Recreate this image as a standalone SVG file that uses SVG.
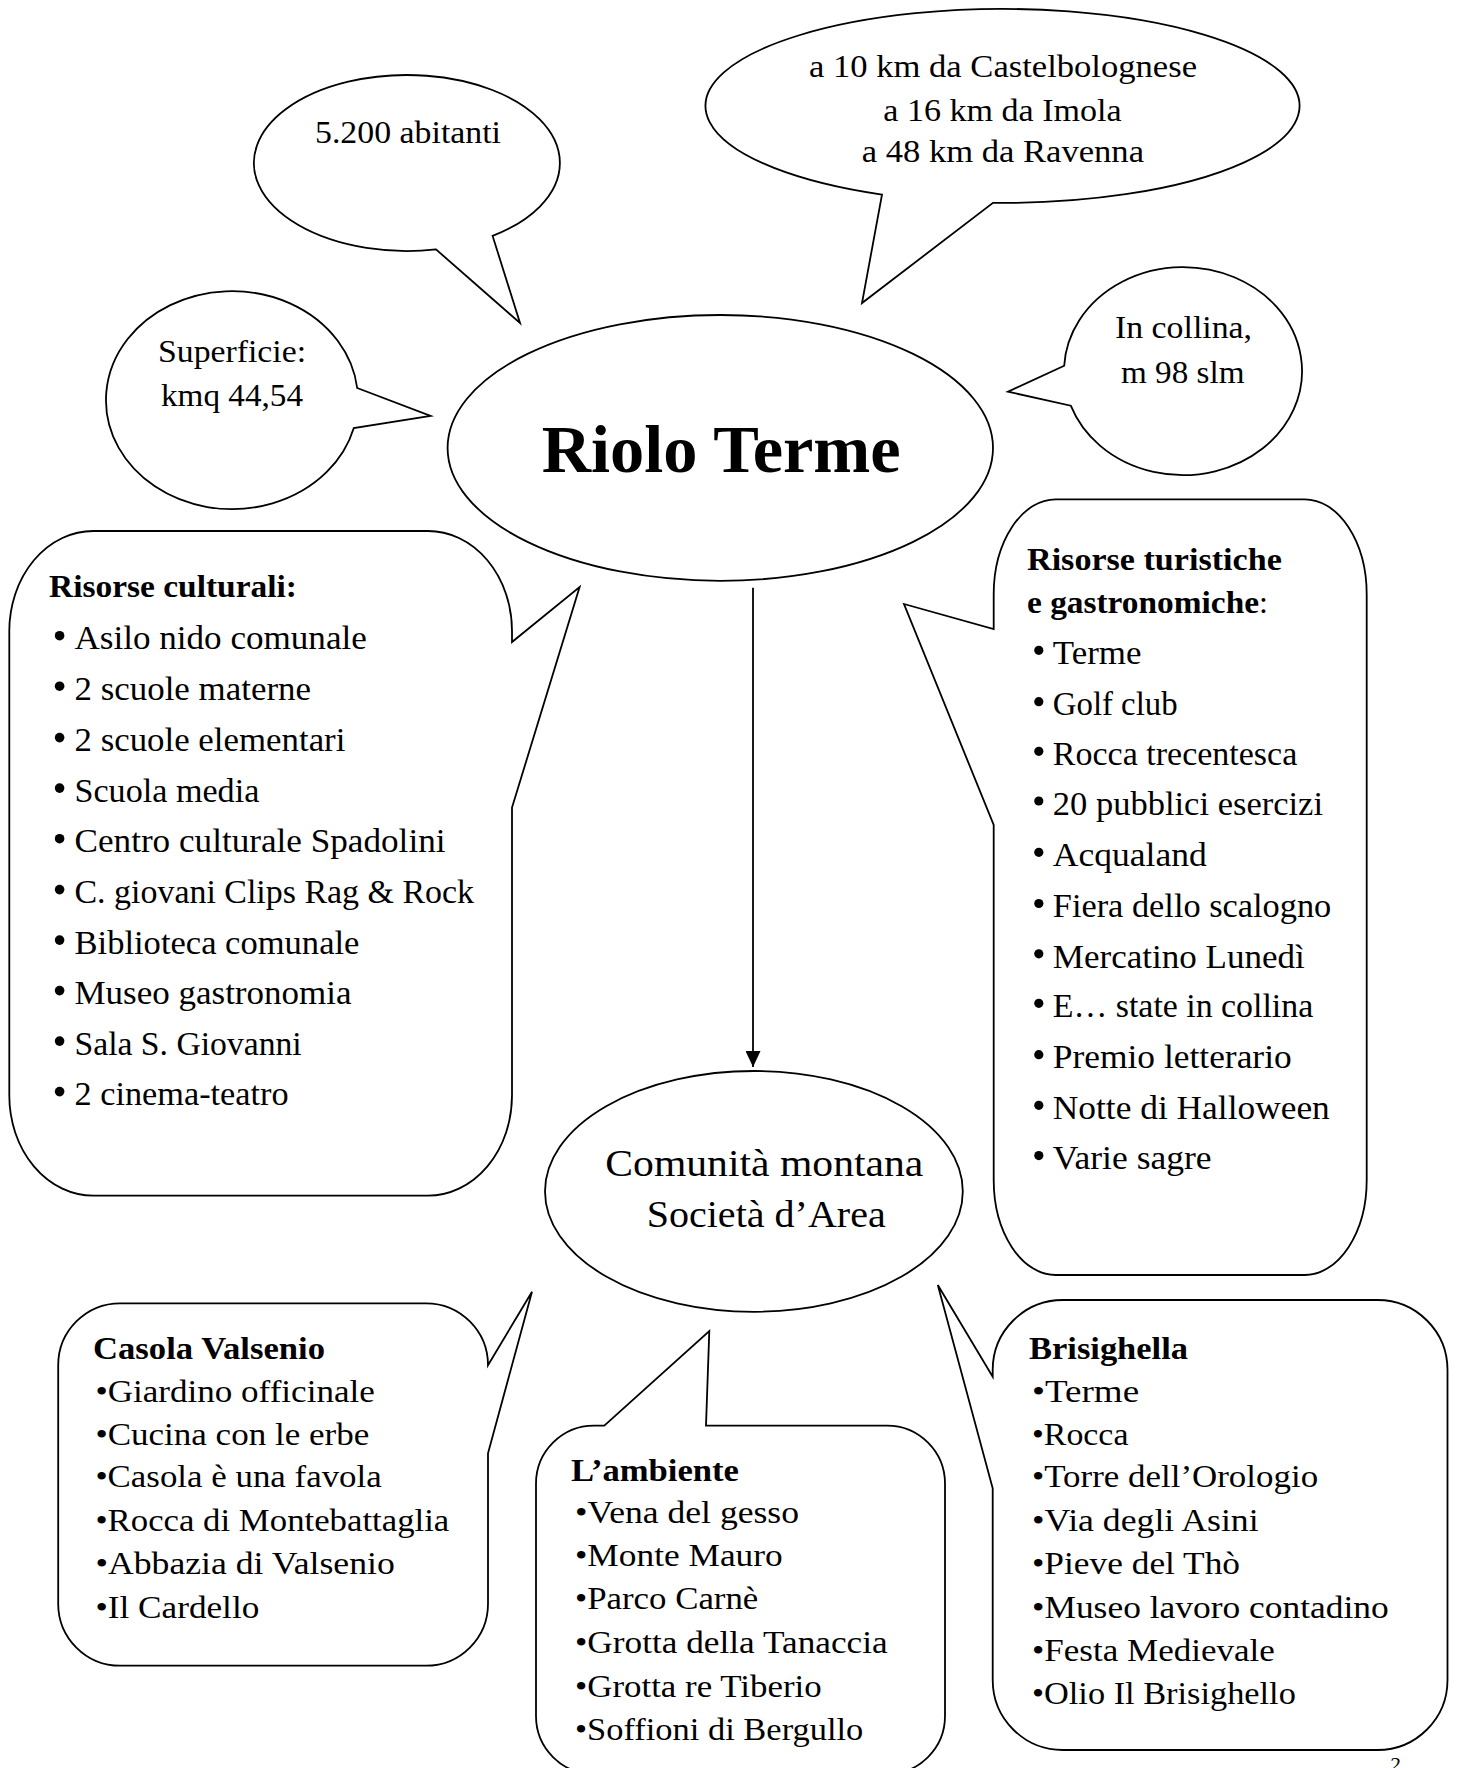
<svg xmlns="http://www.w3.org/2000/svg" width="1459" height="1768" viewBox="0 0 1459 1768">
<defs>
<style>
.s{fill:#fff;stroke:#000;stroke-width:1.8;stroke-linejoin:miter}
text{font-family:"Liberation Serif","Times New Roman",serif;fill:#000}
.b{font-weight:bold}
.f32{font-size:32px}
.f34{font-size:34px}
.f31{font-size:31px}
.dot{fill:#000}
</style>
<marker id="ah" viewBox="0 0 16 15" markerWidth="16" markerHeight="15" refX="16" refY="7.5" orient="auto" markerUnits="userSpaceOnUse">
<path d="M0,0 L16,7.5 L0,15 Z" fill="#000"/>
</marker>
</defs>
<rect width="1459" height="1768" fill="#fff"/>

<g id="abitanti">
<path class="s" d="M436 249.4 L520 323 L492.6 235.9 A153 88 0 1 0 436 249.4 Z"/>
<text class="f32" x="315" y="143" textLength="186" lengthAdjust="spacingAndGlyphs">5.200 abitanti</text>
</g>

<g id="distanze">
<path class="s" d="M882 194.6 L862 303 L993 202.9 A297 97 0 1 0 882 194.6 Z"/>
<text class="f32" x="809" y="77" textLength="388" lengthAdjust="spacingAndGlyphs">a 10 km da Castelbolognese</text>
<text class="f32" x="883.3" y="121" textLength="238.4" lengthAdjust="spacingAndGlyphs">a 16 km da Imola</text>
<text class="f32" x="861.7" y="161.7" textLength="282.3" lengthAdjust="spacingAndGlyphs">a 48 km da Ravenna</text>
</g>

<g id="superficie">
<path class="s" d="M357.2 388 L430.6 416 L353.8 428 A126 109 0 1 1 357.2 388 Z"/>
<text class="f32" x="158" y="362" textLength="148" lengthAdjust="spacingAndGlyphs">Superficie:</text>
<text class="f32" x="161" y="406" textLength="142" lengthAdjust="spacingAndGlyphs">kmq 44,54</text>
</g>

<g id="collina">
<path class="s" d="M1064.2 365.7 L1008 391.7 L1070.8 405.7 A119 104 0 1 0 1064.2 365.7 Z"/>
<text class="f32" x="1115" y="338" textLength="137" lengthAdjust="spacingAndGlyphs">In collina,</text>
<text class="f32" x="1121" y="383" textLength="123.5" lengthAdjust="spacingAndGlyphs">m 98 slm</text>
</g>

<g id="riolo">
<ellipse class="s" cx="720.3" cy="447.9" rx="272.7" ry="132.9"/>
<text class="b" font-size="68" x="541.7" y="471.7" textLength="359" lengthAdjust="spacingAndGlyphs">Riolo Terme</text>
</g>

<g id="culturali">
<path class="s" d="M93.3 531 L428 531 A84 100 0 0 1 512 631 L512 642 L579.6 587 L512 807.6 L512 1095.6 A84 100 0 0 1 428 1195.6 L93.3 1195.6 A84 100 0 0 1 9.3 1095.6 L9.3 631 A84 100 0 0 1 93.3 531 Z"/>
<text class="b f32" x="49" y="597" textLength="248" lengthAdjust="spacingAndGlyphs">Risorse culturali:</text>
<g class="dot">
<circle cx="59.6" cy="635.7" r="4.8"/>
<circle cx="59.6" cy="686.2" r="4.8"/>
<circle cx="59.6" cy="737.6" r="4.8"/>
<circle cx="59.6" cy="788.1" r="4.8"/>
<circle cx="59.6" cy="838.7" r="4.8"/>
<circle cx="59.6" cy="889.6" r="4.8"/>
<circle cx="59.6" cy="940.1" r="4.8"/>
<circle cx="59.6" cy="990.6" r="4.8"/>
<circle cx="59.6" cy="1041.1" r="4.8"/>
<circle cx="59.6" cy="1091.6" r="4.8"/>
</g>
<text class="f34" x="74.5" y="649.2" textLength="292.3" lengthAdjust="spacingAndGlyphs">Asilo nido comunale</text>
<text class="f34" x="74.5" y="699.7" textLength="236.5" lengthAdjust="spacingAndGlyphs">2 scuole materne</text>
<text class="f34" x="74.5" y="751.1" textLength="270.9" lengthAdjust="spacingAndGlyphs">2 scuole elementari</text>
<text class="f34" x="74.5" y="801.6" textLength="184.8" lengthAdjust="spacingAndGlyphs">Scuola media</text>
<text class="f34" x="74.5" y="852.2" textLength="371" lengthAdjust="spacingAndGlyphs">Centro culturale Spadolini</text>
<text class="f34" x="74.5" y="903.1" textLength="399.5" lengthAdjust="spacingAndGlyphs">C. giovani Clips Rag &amp; Rock</text>
<text class="f34" x="74.5" y="953.6" textLength="284.9" lengthAdjust="spacingAndGlyphs">Biblioteca comunale</text>
<text class="f34" x="74.5" y="1004.1" textLength="277" lengthAdjust="spacingAndGlyphs">Museo gastronomia</text>
<text class="f34" x="74.5" y="1054.6" textLength="227.2" lengthAdjust="spacingAndGlyphs">Sala S. Giovanni</text>
<text class="f34" x="74.5" y="1105.1" textLength="214.1" lengthAdjust="spacingAndGlyphs">2 cinema-teatro</text>
</g>

<g id="turistiche">
<path class="s" d="M1055.7 499.4 L1304.7 499.4 A62 95 0 0 1 1366.7 594.4 L1366.7 1180 A62 95 0 0 1 1304.7 1275 L1055.7 1275 A62 95 0 0 1 993.7 1180 L993.7 825 L904 604 L993.7 629 L993.7 594.4 A62 95 0 0 1 1055.7 499.4 Z"/>
<text class="b f32" x="1027" y="570" textLength="254.8" lengthAdjust="spacingAndGlyphs">Risorse turistiche</text>
<text class="f32" x="1027" y="613.4"><tspan class="b" textLength="232" lengthAdjust="spacingAndGlyphs">e gastronomiche</tspan>:</text>
<g class="dot">
<circle cx="1038.8" cy="650.3" r="4.6"/>
<circle cx="1038.8" cy="701.7" r="4.6"/>
<circle cx="1038.8" cy="751.3" r="4.6"/>
<circle cx="1038.8" cy="801" r="4.6"/>
<circle cx="1038.8" cy="852.3" r="4.6"/>
<circle cx="1038.8" cy="903.5" r="4.6"/>
<circle cx="1038.8" cy="953.8" r="4.6"/>
<circle cx="1038.8" cy="1003.3" r="4.6"/>
<circle cx="1038.8" cy="1054.7" r="4.6"/>
<circle cx="1038.8" cy="1105.3" r="4.6"/>
<circle cx="1038.8" cy="1155.6" r="4.6"/>
</g>
<text class="f34" x="1052.8" y="664" textLength="88.6" lengthAdjust="spacingAndGlyphs">Terme</text>
<text class="f34" x="1052.8" y="715.4" textLength="124.8" lengthAdjust="spacingAndGlyphs">Golf club</text>
<text class="f34" x="1052.8" y="765" textLength="244.5" lengthAdjust="spacingAndGlyphs">Rocca trecentesca</text>
<text class="f34" x="1052.8" y="814.7" textLength="270.2" lengthAdjust="spacingAndGlyphs">20 pubblici esercizi</text>
<text class="f34" x="1052.8" y="866" textLength="154" lengthAdjust="spacingAndGlyphs">Acqualand</text>
<text class="f34" x="1052.8" y="917.2" textLength="278.5" lengthAdjust="spacingAndGlyphs">Fiera dello scalogno</text>
<text class="f34" x="1052.8" y="967.5" textLength="251.9" lengthAdjust="spacingAndGlyphs">Mercatino Lunedì</text>
<text class="f34" x="1052.8" y="1017" textLength="260.4" lengthAdjust="spacingAndGlyphs">E… state in collina</text>
<text class="f34" x="1052.8" y="1068.4" textLength="238.9" lengthAdjust="spacingAndGlyphs">Premio letterario</text>
<text class="f34" x="1052.8" y="1119" textLength="277" lengthAdjust="spacingAndGlyphs">Notte di Halloween</text>
<text class="f34" x="1052.8" y="1169.3" textLength="158.8" lengthAdjust="spacingAndGlyphs">Varie sagre</text>
</g>

<g id="comunita">
<ellipse class="s" cx="753.9" cy="1191.4" rx="208.9" ry="120.4"/>
<text font-size="38" x="605.3" y="1175.7" textLength="318" lengthAdjust="spacingAndGlyphs">Comunità montana</text>
<text font-size="38" x="646.7" y="1227.3" textLength="239" lengthAdjust="spacingAndGlyphs">Società d’Area</text>
</g>

<g id="casola">
<path class="s" d="M120.2 1303.3 L426 1303.3 A62 62 0 0 1 488 1365.3 L532 1291.7 L488 1453.3 L488 1603.7 A62 62 0 0 1 426 1665.7 L120.2 1665.7 A62 62 0 0 1 58.2 1603.7 L58.2 1365.3 A62 62 0 0 1 120.2 1303.3 Z"/>
<text class="b f31" x="93" y="1359.3" textLength="232" lengthAdjust="spacingAndGlyphs">Casola Valsenio</text>
<text class="f32" x="95.4" y="1401.7" textLength="279.4" lengthAdjust="spacingAndGlyphs">•Giardino officinale</text>
<text class="f32" x="95.4" y="1445" textLength="273.8" lengthAdjust="spacingAndGlyphs">•Cucina con le erbe</text>
<text class="f32" x="95.4" y="1487.3" textLength="286.3" lengthAdjust="spacingAndGlyphs">•Casola è una favola</text>
<text class="f32" x="95.4" y="1531" textLength="353.9" lengthAdjust="spacingAndGlyphs">•Rocca di Montebattaglia</text>
<text class="f32" x="95.4" y="1574.3" textLength="299.4" lengthAdjust="spacingAndGlyphs">•Abbazia di Valsenio</text>
<text class="f32" x="95.4" y="1618.3" textLength="163.9" lengthAdjust="spacingAndGlyphs">•Il Cardello</text>
</g>

<g id="ambiente">
<path class="s" d="M536 1483.7 A58 58 0 0 1 594 1425.7 L604.3 1425.7 L709.3 1331 L706 1425.7 L887 1425.7 A58 58 0 0 1 945 1483.7 L945 1716 A58 58 0 0 1 887 1774 L594 1774 A58 58 0 0 1 536 1716 Z"/>
<text class="b f31" x="571" y="1481" textLength="168" lengthAdjust="spacingAndGlyphs">L’ambiente</text>
<text class="f32" x="575" y="1522.7" textLength="224" lengthAdjust="spacingAndGlyphs">•Vena del gesso</text>
<text class="f32" x="575" y="1566" textLength="207.7" lengthAdjust="spacingAndGlyphs">•Monte Mauro</text>
<text class="f32" x="575" y="1609.3" textLength="183.3" lengthAdjust="spacingAndGlyphs">•Parco Carnè</text>
<text class="f32" x="575" y="1653.3" textLength="312.7" lengthAdjust="spacingAndGlyphs">•Grotta della Tanaccia</text>
<text class="f32" x="575" y="1696.7" textLength="246.7" lengthAdjust="spacingAndGlyphs">•Grotta re Tiberio</text>
<text class="f32" x="575" y="1740" textLength="288.3" lengthAdjust="spacingAndGlyphs">•Soffioni di Bergullo</text>
</g>

<g id="brisighella">
<path class="s" d="M1062.7 1300 L1377.5 1300 A70 70 0 0 1 1447.5 1370 L1447.5 1680 A70 70 0 0 1 1377.5 1750 L1062.7 1750 A70 70 0 0 1 992.7 1680 L992.7 1488.3 L937.8 1285 L992.7 1376.7 L992.7 1370 A70 70 0 0 1 1062.7 1300 Z"/>
<text class="b f31" x="1029" y="1359.3" textLength="159" lengthAdjust="spacingAndGlyphs">Brisighella</text>
<text class="f32" x="1032" y="1401.7" textLength="107.1" lengthAdjust="spacingAndGlyphs">•Terme</text>
<text class="f32" x="1032" y="1445" textLength="96.4" lengthAdjust="spacingAndGlyphs">•Rocca</text>
<text class="f32" x="1032" y="1487.3" textLength="286.1" lengthAdjust="spacingAndGlyphs">•Torre dell’Orologio</text>
<text class="f32" x="1032" y="1531" textLength="226.6" lengthAdjust="spacingAndGlyphs">•Via degli Asini</text>
<text class="f32" x="1032" y="1574.3" textLength="208" lengthAdjust="spacingAndGlyphs">•Pieve del Thò</text>
<text class="f32" x="1032" y="1617.7" textLength="356.8" lengthAdjust="spacingAndGlyphs">•Museo lavoro contadino</text>
<text class="f32" x="1032" y="1661" textLength="242.9" lengthAdjust="spacingAndGlyphs">•Festa Medievale</text>
<text class="f32" x="1032" y="1704" textLength="263.8" lengthAdjust="spacingAndGlyphs">•Olio Il Brisighello</text>
</g>

<g id="connectors">
<line x1="753" y1="587.7" x2="753" y2="1067" stroke="#000" stroke-width="1.8" marker-end="url(#ah)"/>
</g>

<text x="1389" y="1772" font-size="22" font-style="italic">2</text>
</svg>
